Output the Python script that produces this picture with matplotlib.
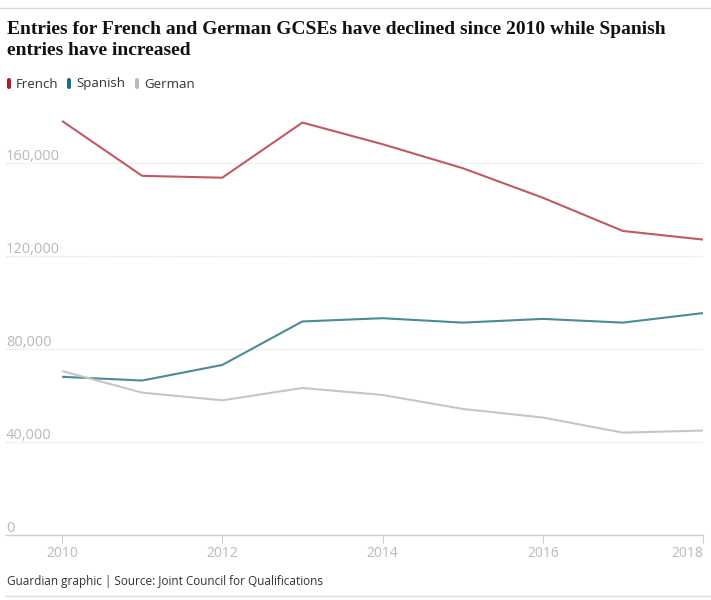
import matplotlib
matplotlib.use("Agg")
import matplotlib.pyplot as plt
from matplotlib.patches import FancyBboxPatch
from matplotlib.lines import Line2D

years = [2010, 2011, 2012, 2013, 2014, 2015, 2016, 2017, 2018]
french = [178000, 154400, 153600, 177300, 168000, 157700, 145000, 130700, 127000]
spanish = [68000, 66400, 73100, 91800, 93200, 91300, 92900, 91300, 95400]
german = [70500, 61200, 57900, 63200, 60200, 54200, 50500, 44000, 44900]
series_names = ["French", "Spanish", "German"]
y_ticks = [0, 40000, 80000, 120000, 160000]
x_ticks = [2010, 2012, 2014, 2016, 2018]

line_colors = ["#c25862", "#4a8a99", "#c6c6c6"]
swatch_colors = ["#b8182a", "#1f6b8a", "#bbbbbb"]

W, H = 711, 600
fig = plt.figure(figsize=(W / 100, H / 100), dpi=100)

def fx(px):
    return px / W

def fy(py):
    return 1 - py / H

ax = fig.add_axes([fx(6), fy(535), fx(703) - fx(6), fy(100) - fy(535)])
for vals, c in zip([french, spanish, german], line_colors):
    ax.plot(years, vals, color=c, lw=1.5, solid_capstyle="butt", zorder=3)

ax.set_xlim(2010 - 56 / 80.1, 2018)
ax.set_ylim(0, 187000)
for s in ["top", "right", "left"]:
    ax.spines[s].set_visible(False)
ax.spines["bottom"].set_color("#cccccc")
ax.spines["bottom"].set_linewidth(1)

ax.set_yticks(y_ticks)
ax.set_yticklabels([])
ax.tick_params(axis="y", length=0)
for v in y_ticks:
    if v > 0:
        ax.axhline(v, color="#d8d8d8", lw=0.8, ls=(0, (1, 1.5)), zorder=1)
    ax.text(0, v + 1300, f"{v:,}", transform=ax.get_yaxis_transform(),
            ha="left", va="baseline", fontsize=10.5, color="#b9b9b9",
            family="Open Sans")

ax.set_xticks(x_ticks)
ax.set_xticklabels([str(x) for x in x_ticks], fontsize=10, color="#b9b9b9",
                   family="Open Sans")
ax.get_xticklabels()[-1].set_ha("right")
ax.tick_params(axis="x", length=6, width=0.8, color="#cccccc", pad=2)

# top and bottom rules
fig.add_artist(Line2D([fx(0), fx(711)], [fy(8), fy(8)], color="#dcdcdc", lw=1))
fig.add_artist(Line2D([fx(6), fx(711)], [fy(596), fy(596)], color="#dcdcdc", lw=1))

fig.text(fx(7), fy(21), "Entries for French and German GCSEs have declined since 2010 while Spanish\nentries have increased",
         ha="left", va="top", fontsize=14.0, fontweight="bold",
         family="Liberation Serif", color="#121212", linespacing=1.32)

lx = [7, 67, 135]
for x0, name, c in zip(lx, series_names, swatch_colors):
    fig.add_artist(FancyBboxPatch((fx(x0), fy(89)), fx(4), fy(78) - fy(89),
                                  boxstyle="round,pad=0,rounding_size=0.003",
                                  transform=fig.transFigure, color=c, lw=0))
    fig.text(fx(x0 + 9), fy(84), name, ha="left", va="center", fontsize=9.5,
             color="#333333", family="Open Sans")

fig.text(fx(7), fy(581), "Guardian graphic | Source: Joint Council for Qualifications",
         ha="left", va="center", fontsize=8.5, color="#333333", family="Open Sans")

fig.savefig("out.png", dpi=100, facecolor="white")
